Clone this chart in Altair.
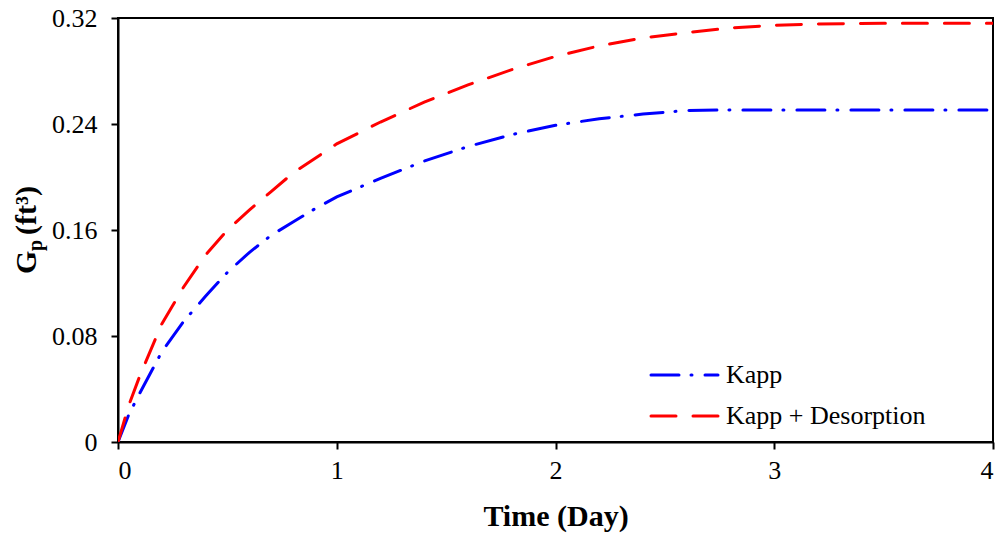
import altair as alt
import pandas as pd

# Time (day)
days = [0, 0.05, 0.1, 0.2, 0.3, 0.4, 0.5, 0.6, 0.7, 0.8, 0.9, 1.0, 1.2, 1.4, 1.6,
        1.8, 2.0, 2.2, 2.4, 2.6, 2.8, 3.0, 3.2, 3.5, 4.0]
# Gp (ft^3) - Kapp
kapp = [0, 0.021, 0.037, 0.068, 0.091, 0.110, 0.128, 0.143, 0.156, 0.166, 0.176,
        0.185, 0.199, 0.212, 0.223, 0.232, 0.239, 0.244, 0.2475, 0.2502, 0.2506,
        0.2506, 0.2506, 0.2506, 0.2506]
# Gp (ft^3) - Kapp + Desorption
kapp_des = [0, 0.028, 0.050, 0.089, 0.117, 0.141, 0.160, 0.175, 0.189, 0.203, 0.214,
            0.225, 0.2415, 0.2565, 0.2695, 0.281, 0.291, 0.299, 0.305, 0.309, 0.3125,
            0.3145, 0.3155, 0.316, 0.316]

series_names = ["Kapp", "Kapp + Desorption"]
series_colors = ["#0000ff", "#ff0000"]
series_dash = [[28, 12, 1, 13], [25, 17]]

x_ticks = [0, 1, 2, 3, 4]
y_ticks = [0, 0.08, 0.16, 0.24, 0.32]

rows = []
for s, vals in zip(series_names, [kapp, kapp_des]):
    for i, (t, v) in enumerate(zip(days, vals)):
        rows.append({"Time": t, "Gp": v, "Series": s, "order": i})
df = pd.DataFrame(rows)

W, H = 875, 424
FONT = "Liberation Serif"

x_scale = alt.Scale(domain=[0, 4], nice=False, zero=False)
y_scale = alt.Scale(domain=[0, 0.32], nice=False)

lines = alt.Chart(df).mark_line(strokeWidth=3, strokeCap="round", clip=True).encode(
    x=alt.X("Time:Q", scale=x_scale,
            axis=alt.Axis(values=x_ticks, format="d", title="Time (Day)",
                          titleFont=FONT, titleFontSize=30, titleFontWeight="bold",
                          titleColor="black", titlePadding=18, labelPadding=8,
                          labelFont=FONT, labelFontWeight="normal", labelFontSize=26)),
    y=alt.Y("Gp:Q", scale=y_scale,
            axis=alt.Axis(values=y_ticks, format=".2~f", title=None, labelPadding=14,
                          labelFont=FONT, labelFontWeight="normal", labelFontSize=26)),
    color=alt.Color("Series:N", scale=alt.Scale(domain=series_names, range=series_colors), legend=None),
    strokeDash=alt.StrokeDash("Series:N", scale=alt.Scale(domain=series_names, range=series_dash), legend=None),
    order="order:Q",
)

# Manual legend
legend_layers = []
legend_y = [357, 398]
for name, col, dash, ly in zip(series_names, series_colors, series_dash, legend_y):
    legend_layers.append(
        alt.Chart(pd.DataFrame({"label": [name]})).mark_rule(
            color=col, strokeWidth=3, strokeDash=dash, strokeCap="round"
        ).encode(x=alt.value(533), x2=alt.value(600), y=alt.value(ly))
    )
    legend_layers.append(
        alt.Chart(pd.DataFrame({"label": [name]})).mark_text(
            align="left", baseline="middle", font=FONT, fontWeight="normal",
            fontSize=26, color="black"
        ).encode(x=alt.value(608), y=alt.value(ly), text="label:N")
    )

# Y axis title: G_p (ft³)
def ytxt(txt, xpos, ypos, size):
    return alt.Chart(pd.DataFrame({"t": [txt]})).mark_text(
        angle=270, align="left", baseline="alphabetic", font=FONT,
        fontSize=size, fontWeight="bold", color="black"
    ).encode(x=alt.value(xpos), y=alt.value(ypos), text="t:N")

ytitle = [
    ytxt("G", -82, 256, 30),
    ytxt("p", -76, 233, 20),
    ytxt("(ft³)", -82, 217, 30),
]

chart = alt.layer(lines, *legend_layers, *ytitle).properties(
    width=W, height=H,
    autosize=alt.AutoSizeParams(type="none"),
    padding={"left": 118, "top": 18, "right": 10, "bottom": 94},
).configure_view(
    stroke="black", strokeWidth=2
).configure_axis(
    grid=False, domainColor="black", domainWidth=2, tickColor="black",
    tickWidth=2, tickSize=7, labelColor="black",
)

chart.save("out.html", embed_options={"renderer": "svg", "actions": False})
